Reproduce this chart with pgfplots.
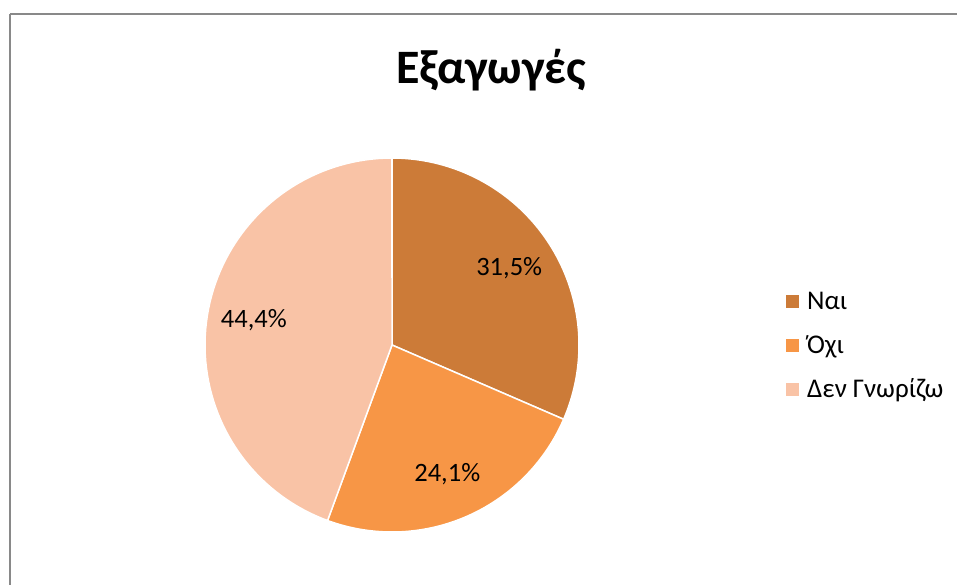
\documentclass[border=0pt]{standalone}
\usepackage{pgfplots}
\pgfplotsset{compat=1.18}
\usepackage{fontspec}
\setmainfont{Carlito}
\definecolor{cNai}{HTML}{CC7B38}
\definecolor{cOxi}{HTML}{F79646}
\definecolor{cDen}{HTML}{F9C3A6}
\definecolor{frame}{HTML}{898989}
\begin{document}
\begin{tikzpicture}[x=1pt,y=1pt]
\useasboundingbox (0,0) rectangle (957,584);
\draw[frame, line width=2pt] (10,569.5) -- (1000,569.5);
\draw[frame, line width=2pt] (10,569.5) -- (10,-20);
\node[font=\bfseries\fontsize{48}{56}\selectfont] at (491,514) {Εξαγωγές};
% data (percent)
\def\vA{31.5}\def\vB{24.1}\def\vC{44.4}
\pgfmathsetmacro\aO{90}
\pgfmathsetmacro\aA{\aO-3.6*\vA}
\pgfmathsetmacro\aB{\aA-3.6*\vB}
\pgfmathsetmacro\aC{\aB-3.6*\vC}
\pgfmathsetmacro\mA{(\aO+\aA)/2}
\pgfmathsetmacro\mB{(\aA+\aB)/2}
\pgfmathsetmacro\mC{(\aB+\aC)/2}
\begin{axis}[
  x=187pt, y=187pt,
  xmin=-1, xmax=1, ymin=-1, ymax=1,
  hide axis, clip=false,
  at={(392pt,239pt)}, anchor=origin,
  legend style={at={(axis cs:2.107,-0.005)}, anchor=west, draw=none, fill=none,
    inner sep=0pt, row sep=24pt, font=\fontsize{27}{32}\selectfont,
    nodes={inner sep=0pt},
    /tikz/every odd column/.append style={column sep=8pt}},
  legend cell align=left,
  legend image code/.code={\fill[#1, draw=none] (0pt,-6.5pt) rectangle (13pt,6.5pt);},
]
\addplot[fill=cNai, draw=white, line width=1.5pt, domain=\aO:\aA, samples=80] ({cos(x)},{sin(x)}) -- (axis cs:0,0) -- cycle;
\addlegendentry{Ναι}
\addplot[fill=cOxi, draw=white, line width=1.5pt, domain=\aA:\aB, samples=80] ({cos(x)},{sin(x)}) -- (axis cs:0,0) -- cycle;
\addlegendentry{Όχι}
\addplot[fill=cDen, draw=white, line width=1.5pt, domain=\aB:\aC, samples=80] ({cos(x)},{sin(x)}) -- (axis cs:0,0) -- cycle;
\addlegendentry{Δεν Γνωρίζω}
\pgfmathsetmacro\xA{0.75*cos(\mA)}\pgfmathsetmacro\yA{0.75*sin(\mA)}
\pgfmathsetmacro\xB{0.75*cos(\mB)}\pgfmathsetmacro\yB{0.75*sin(\mB)}
\pgfmathsetmacro\xC{0.75*cos(\mC)}\pgfmathsetmacro\yC{0.75*sin(\mC)}
\node[font=\fontsize{26.5}{31}\selectfont] at (axis cs:\xA,\yA) {31,5\%};
\node[font=\fontsize{26.5}{31}\selectfont] at (axis cs:\xB,\yB) {24,1\%};
\node[font=\fontsize{26.5}{31}\selectfont] at (axis cs:\xC,\yC) {44,4\%};
\end{axis}
\end{tikzpicture}
\end{document}
